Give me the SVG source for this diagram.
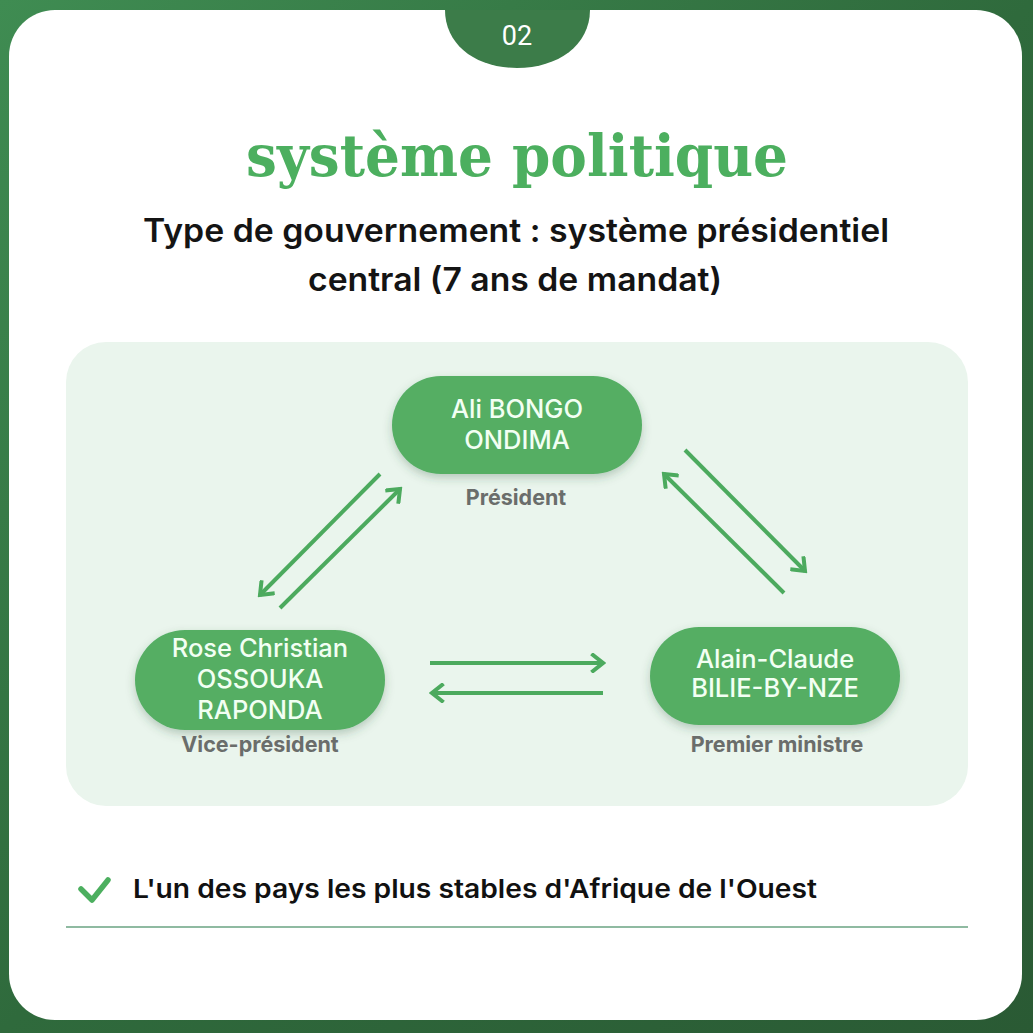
<svg xmlns="http://www.w3.org/2000/svg" width="1033" height="1033" viewBox="0 0 1033 1033">
<defs>
<linearGradient id="bg" x1="0" y1="0" x2="1" y2="1">
<stop offset="0" stop-color="#3f8c52"/>
<stop offset="0.5" stop-color="#2f6a3c"/>
<stop offset="1" stop-color="#2a5a34"/>
</linearGradient>
<filter id="sh" x="-20%" y="-30%" width="140%" height="170%">
<feDropShadow dx="0" dy="4" stdDeviation="5" flood-color="#2d5a36" flood-opacity="0.28"/>
</filter>
<marker id="ah" viewBox="0 0 20 20" refX="17" refY="10" markerWidth="20" markerHeight="20" markerUnits="userSpaceOnUse" orient="auto">
<path d="M7,2 L17,10 L7,18" fill="none" stroke="#4caa5e" stroke-width="4" stroke-linecap="square"/>
</marker>
<style>
.pill{fill:#54ae64;filter:url(#sh)}
.nt{font-family:Inter,"Liberation Sans",sans-serif;font-size:25.5px;fill:#f2fff3;text-anchor:middle;font-weight:500}
.lb{font-family:Inter,"Liberation Sans",sans-serif;font-size:21.5px;fill:#6a6d6b;text-anchor:middle;font-weight:700}
.ar{stroke:#4caa5e;stroke-width:4;fill:none;marker-end:url(#ah)}
</style>
</defs>
<rect width="1033" height="1033" fill="url(#bg)"/>
<rect x="9" y="10" width="1013" height="1010" rx="46" fill="#ffffff"/>
<path d="M445,10 L590,10 C590,45 558,68 517,68 C476,68 445,45 445,10 Z" fill="#3c7c49"/>
<text x="517" y="45" font-family="Roboto,'Liberation Sans',sans-serif" font-weight="400" font-size="27" fill="#ffffff" text-anchor="middle">02</text>
<text x="517" y="176" font-family="'DejaVu Serif',serif" font-weight="bold" font-size="58" fill="#4caf5f" text-anchor="middle" textLength="542" lengthAdjust="spacingAndGlyphs">système politique</text>
<text x="516" y="242" font-family="Inter,'Liberation Sans',sans-serif" font-weight="600" font-size="32" fill="#141414" text-anchor="middle" textLength="746" lengthAdjust="spacingAndGlyphs">Type de gouvernement : système présidentiel</text>
<text x="515" y="291" font-family="Inter,'Liberation Sans',sans-serif" font-weight="600" font-size="32" fill="#141414" text-anchor="middle" textLength="414" lengthAdjust="spacingAndGlyphs">central (7 ans de mandat)</text>
<rect x="66" y="342" width="902" height="464" rx="40" fill="#eaf5ed"/>
<g id="connectors">
<line class="ar" x1="380" y1="474" x2="260" y2="595"/>
<line class="ar" x1="280" y1="608" x2="400" y2="489"/>
<line class="ar" x1="685" y1="450" x2="805" y2="571"/>
<line class="ar" x1="784" y1="593" x2="664" y2="474"/>
<line class="ar" x1="430" y1="663" x2="603" y2="663"/>
<line class="ar" x1="603" y1="693" x2="432" y2="693"/>
</g>
<g id="president">
<rect class="pill" x="392" y="376" width="250" height="98" rx="49"/>
<text class="nt" x="517" y="418">Ali BONGO</text>
<text class="nt" x="517" y="449">ONDIMA</text>
<text class="lb" x="516" y="505">Président</text>
</g>
<g id="vice-president">
<rect class="pill" x="135" y="630" width="250" height="100" rx="50"/>
<text class="nt" x="260" y="657">Rose Christian</text>
<text class="nt" x="260" y="688">OSSOUKA</text>
<text class="nt" x="260" y="719">RAPONDA</text>
<text class="lb" x="260" y="752">Vice-président</text>
</g>
<g id="premier-ministre">
<rect class="pill" x="650" y="627" width="250" height="98" rx="49"/>
<text class="nt" x="775" y="668">Alain-Claude</text>
<text class="nt" x="775" y="697">BILIE-BY-NZE</text>
<text class="lb" x="777" y="752">Premier ministre</text>
</g>
<path d="M81,889 L92,900 L108,880" fill="none" stroke="#4caf5f" stroke-width="5.5" stroke-linecap="round" stroke-linejoin="round"/>
<text x="133" y="898" font-family="Inter,'Liberation Sans',sans-serif" font-weight="600" font-size="26" fill="#111111" textLength="684" lengthAdjust="spacingAndGlyphs">L'un des pays les plus stables d'Afrique de l'Ouest</text>
<line x1="66" y1="927" x2="968" y2="927" stroke="#6aa382" stroke-width="1.3"/>
</svg>
